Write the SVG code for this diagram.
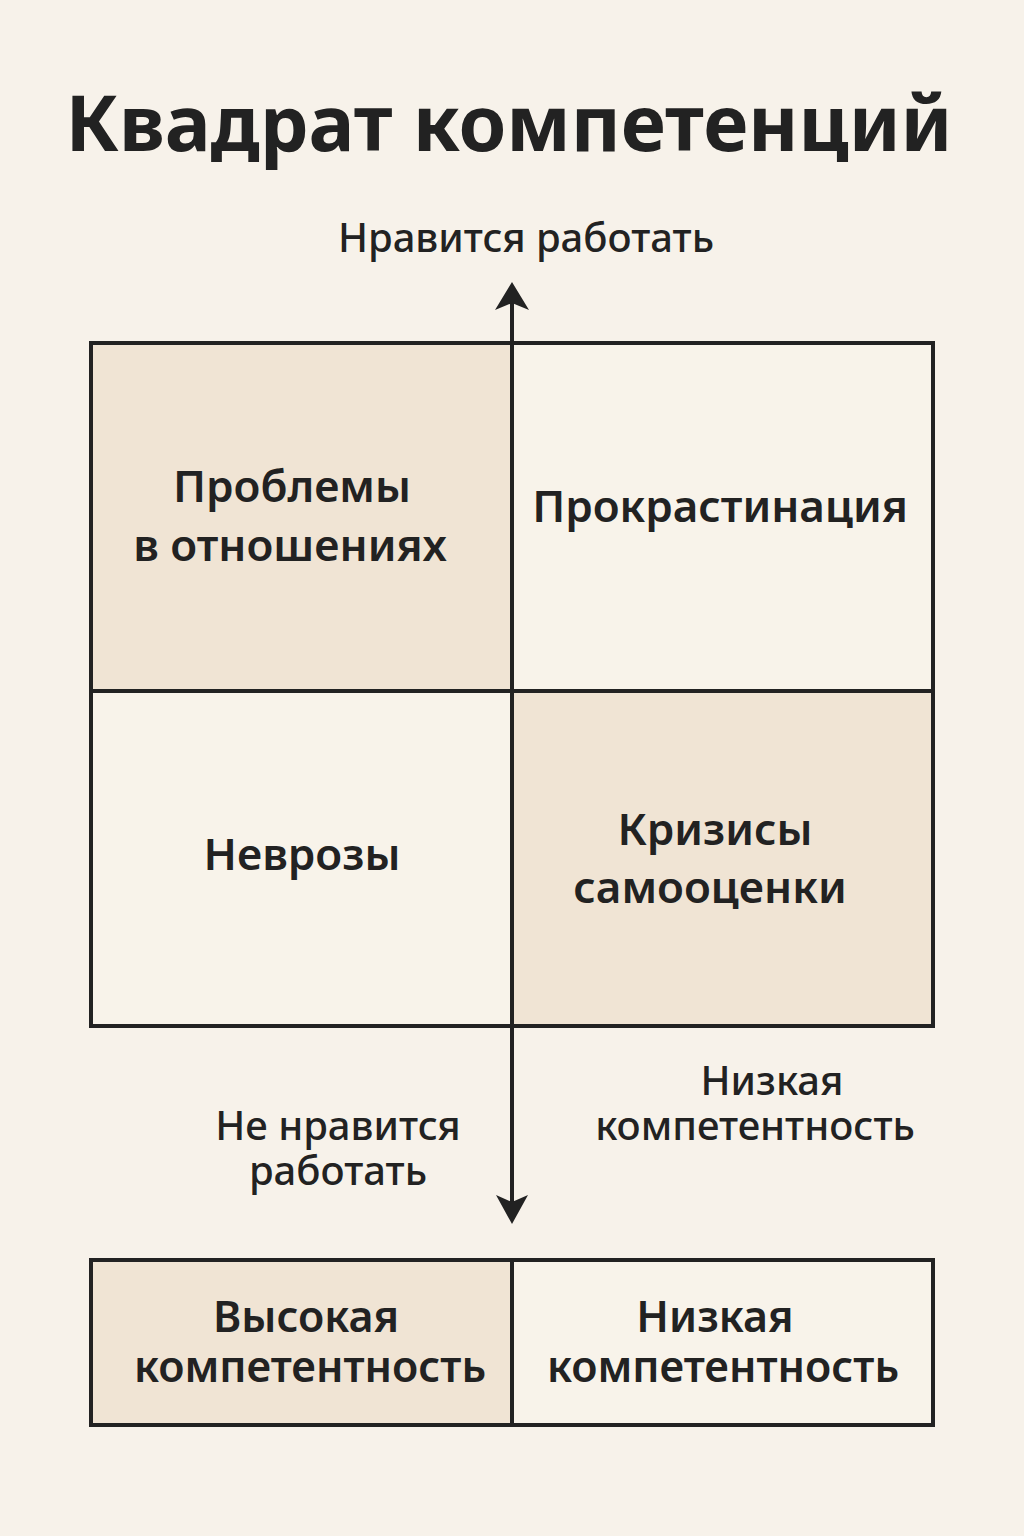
<svg xmlns="http://www.w3.org/2000/svg" width="1024" height="1536" viewBox="0 0 1024 1536">
<defs>
<style>
.t{font-family:"Noto Sans","Open Sans","Liberation Sans",sans-serif;fill:#222;text-anchor:middle}
.title{font-size:77px;font-weight:700}
.ax{font-size:40px;font-weight:500}
.q{font-size:44px;font-weight:600}
.b{font-size:43px;font-weight:600}
.cell{stroke:#222;stroke-width:4}
.sh{fill:#f0e4d4}
.pl{fill:#f8f3ea}
.ln{stroke:#222;stroke-width:4;fill:none}
</style>
</defs>
<rect width="1024" height="1536" fill="#f7f2ea"/>
<text class="t title" x="509" y="151">Квадрат компетенций</text>
<text class="t ax" x="526" y="252">Нравится работать</text>
<g id="q1"><rect class="cell sh" x="91" y="343" width="421" height="348"/>
<text class="t q" x="292" y="502">Проблемы</text><text class="t q" x="290" y="561">в отношениях</text></g>
<g id="q2"><rect class="cell pl" x="512" y="343" width="421" height="348"/>
<text class="t q" x="720" y="522">Прокрастинация</text></g>
<g id="q3"><rect class="cell pl" x="91" y="691" width="421" height="335"/>
<text class="t q" x="302" y="870">Неврозы</text></g>
<g id="q4"><rect class="cell sh" x="512" y="691" width="421" height="335"/>
<text class="t q" x="715" y="845">Кризисы</text><text class="t q" x="710" y="903">самооценки</text></g>
<g id="connectors">
<line class="ln" x1="512" y1="300" x2="512" y2="1205"/>
<path d="M512 282 L529 310 L512 303 L495 310 Z" fill="#222"/>
<path d="M512 1224 L496 1195 L512 1202 L528 1195 Z" fill="#222"/>
</g>
<text class="t ax" x="772" y="1095">Низкая</text>
<text class="t ax" x="755" y="1140">компетентность</text>
<text class="t ax" x="338" y="1140">Не нравится</text>
<text class="t ax" x="338" y="1185">работать</text>
<g id="b1"><rect class="cell sh" x="91" y="1260" width="421" height="165"/>
<text class="t b" x="306" y="1332">Высокая</text><text class="t b" x="310" y="1382">компетентность</text></g>
<g id="b2"><rect class="cell pl" x="512" y="1260" width="421" height="165"/>
<text class="t b" x="715" y="1332">Низкая</text><text class="t b" x="723" y="1382">компетентность</text></g>
</svg>
